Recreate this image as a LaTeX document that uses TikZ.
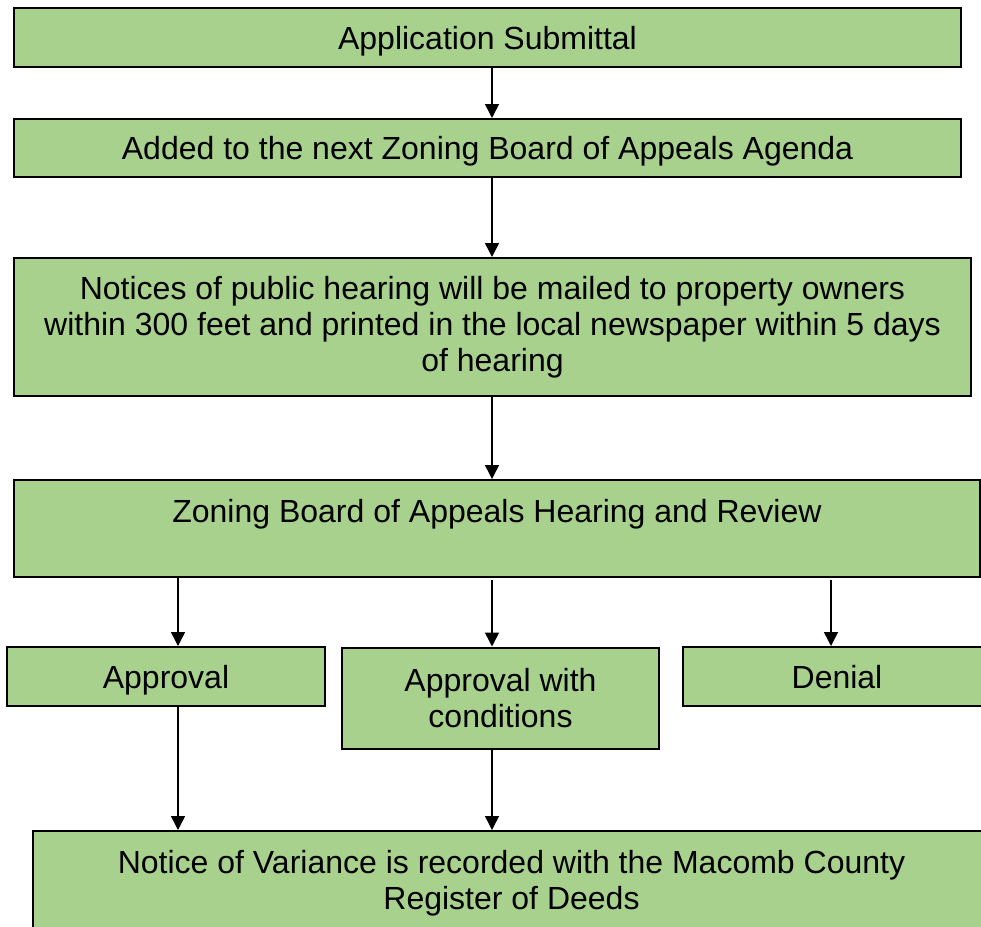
\documentclass[tikz,border=0pt]{standalone}
\usepackage{fontspec}
\setmainfont{Liberation Sans}
\usetikzlibrary{arrows.meta}
\definecolor{boxgreen}{HTML}{A9D18E}
\tikzset{
  box/.style={draw=black, line width=2pt, fill=boxgreen, inner sep=0pt, align=center,
    font=\fontsize{32}{36}\selectfont},
  oneline/.style={text height=23pt, text depth=0pt},
  arr/.style={draw=black, line width=1.5pt, -{Triangle[width=14pt,length=14pt]}}
}
\begin{document}
\begin{tikzpicture}[x=1pt,y=-1pt]
\useasboundingbox (0,0) rectangle (981,926);
\clip (0,0) rectangle (981,926);
\fill[white] (0,0) rectangle (981,926);
\node[box, oneline, minimum width=947pt, minimum height=59pt] (app) at (487.5,37.5) {Application Submittal};
\node[box, oneline, minimum width=947pt, minimum height=58pt] (agenda) at (487.5,148) {Added to the next Zoning Board of Appeals Agenda};
\node[box, minimum width=957pt, minimum height=138pt] (notices) at (492.5,327) {Notices of public hearing will be mailed to property owners\\within 300 feet and printed in the local newspaper within 5 days\\of hearing};
\node[box, minimum width=966pt, minimum height=97pt] (zba) at (497,528.5) {Zoning Board of Appeals Hearing and Review\\\mbox{}};
\node[box, oneline, minimum width=318pt, minimum height=59pt] (appr) at (166,676.5) {Approval};
\node[box, minimum width=317pt, minimum height=101pt] (awc) at (500.5,698) {Approval with\\conditions};
\node[box, oneline, minimum width=308pt, minimum height=59pt] (denial) at (837,676.5) {Denial};
\node[box, minimum width=957pt, minimum height=105pt] (nov) at (511.5,883.5) {Notice of Variance is recorded with the Macomb County\\Register of Deeds};
\coordinate (cx1) at (492,0);
\coordinate (cx2) at (178,0);
\coordinate (cx3) at (831,0);
\coordinate (top2) at (0,580);
\draw[arr] (app.south -| cx1) -- (agenda.north -| cx1);
\draw[arr] (agenda.south -| cx1) -- (notices.north -| cx1);
\draw[arr] (notices.south -| cx1) -- (zba.north -| cx1);
\draw[arr] (zba.south -| cx2) -- (appr.north -| cx2);
\draw[arr] (top2 -| cx1) -- (awc.north -| cx1);
\draw[arr] (top2 -| cx3) -- (denial.north -| cx3);
\draw[arr] (appr.south -| cx2) -- (nov.north -| cx2);
\draw[arr] (awc.south -| cx1) -- (nov.north -| cx1);
\end{tikzpicture}
\end{document}
